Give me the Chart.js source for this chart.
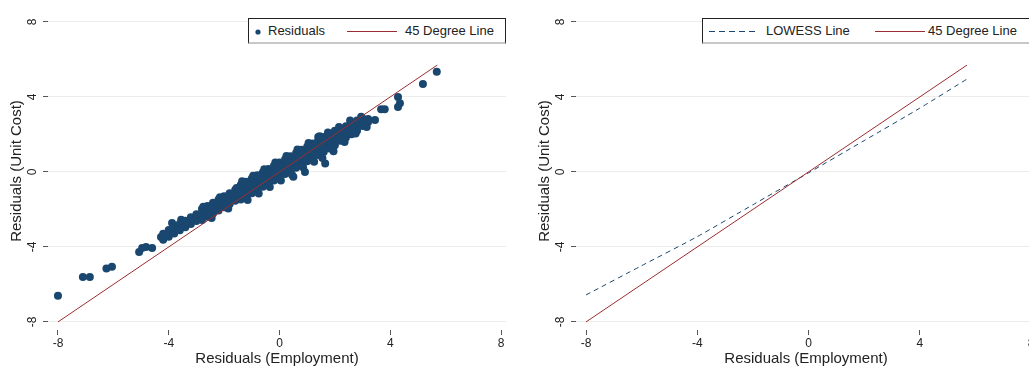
<!DOCTYPE html>
<html>
<head>
<meta charset="utf-8">
<script src="https://cdn.jsdelivr.net/npm/chart.js@4"></script>
<style>
    html, body { margin: 0; padding: 0; background: #fff; }
    body { width: 1029px; height: 368px; overflow: hidden; position: relative; font-family: "Liberation Sans", Arial, sans-serif; }
    canvas { position: absolute; top: 0; }
    #leftChart { left: 0; }
    #rightChart { left: 528px; }
    .legend { position: absolute; top: 18px; height: 23px; background: #fff; border: 1px solid #222; border-bottom: 2px solid #c8c8c8; box-sizing: content-box; }
    .legend span, .legend svg { position: absolute; }
    .legend span { top: 4px; font-size: 13px; color: #222; line-height: 15px; white-space: nowrap; }
    .legend svg { top: 0; }
</style>
</head>
<body>
<canvas id="leftChart" width="510" height="368"></canvas>
<canvas id="rightChart" width="510" height="368"></canvas>

<div class="legend" style="left:248px; width:256px;">
    <svg width="20" height="24" style="left:0;"><circle cx="9" cy="13" r="2.6" fill="#1a476f"></circle></svg>
    <span style="left:19px;">Residuals</span>
    <svg width="60" height="24" style="left:96px;"><line x1="2" y1="12.5" x2="52" y2="12.5" stroke="#9b2d30" stroke-width="1"></line></svg>
    <span style="left:156px;">45 Degree Line</span>
</div>
<div class="legend" style="left:702px; width:340px;">
    <svg width="60" height="24" style="left:4px;"><line x1="2" y1="12.5" x2="52" y2="12.5" stroke="#1a476f" stroke-width="1" stroke-dasharray="6,4"></line></svg>
    <span style="left:63px;">LOWESS Line</span>
    <svg width="60" height="24" style="left:170px;"><line x1="2" y1="12.5" x2="52" y2="12.5" stroke="#9b2d30" stroke-width="1"></line></svg>
    <span style="left:225px;">45 Degree Line</span>
</div>

<script>
// Chart data - residual comparison (employment vs unit cost)

const xTicks = [-8, -4, 0, 4, 8];
const yTicks = [-8, -4, 0, 4, 8];

const xTitle = 'Residuals (Employment)';
const yTitle = 'Residuals (Unit Cost)';

// 45 degree reference line
const degreeLineX = [-8, 5.7];
const degreeLineY = [-8, 5.7];

// LOWESS fit
const lowessX = [-8, -6, -4, -2, 0, 2, 4, 5.75];
const lowessY = [-6.56, -5.0, -3.45, -1.75, -0.05, 1.67, 3.4, 5.0];

// Residual scatter, [employment, unit cost]
const residuals = [
    // lower tail outliers
    [-8.0, -6.6], [-7.1, -5.6], [-6.85, -5.6], [-6.25, -5.15], [-6.05, -5.05],
    [-5.07, -4.27], [-4.96, -4.05], [-4.82, -4.0], [-4.6, -4.05],
    [-4.28, -3.47], [-4.17, -3.36], [-3.88, -2.72], [-3.55, -2.55],
    // lower band
    [-4.2, -3.47], [-4.2, -3.29], [-4.2, -3.62],
    [-4.0, -3.3], [-4.0, -3.1], [-4.0, -3.45],
    [-3.8, -3.13], [-3.8, -2.95], [-3.8, -3.28],
    [-3.6, -2.96], [-3.6, -2.76], [-3.6, -3.11],
    [-3.4, -2.79], [-3.4, -2.6], [-3.4, -2.95],
    [-3.2, -2.62], [-3.2, -2.42], [-3.2, -2.78],
    [-3.0, -2.45], [-3.0, -2.26], [-3.0, -2.62],
    [-2.8, -2.28], [-2.8, -1.98], [-2.8, -2.56], [-2.7, -2.07],
    [-2.6, -2.11], [-2.6, -1.81], [-2.6, -2.39], [-2.5, -1.9],
    [-2.4, -1.94], [-2.4, -1.64], [-2.4, -2.22], [-2.3, -1.73],
    [-2.2, -1.77], [-2.2, -1.47], [-2.2, -2.05], [-2.1, -1.56],
    [-2.0, -1.6], [-2.0, -1.3], [-2.0, -1.88], [-1.9, -1.39],
    [-1.8, -1.43], [-1.8, -1.13], [-1.8, -1.71], [-1.7, -1.22],
    [-1.6, -1.26], [-1.6, -0.96], [-1.6, -1.54], [-1.5, -1.05],
    [-2.75, -1.85], [-2.45, -2.45], [-2.15, -1.35], [-1.85, -1.95], [-1.55, -0.85],
    // centre of the cloud
    [-1.4, -1.09], [-1.4, -0.69], [-1.4, -1.47], [-1.3, -0.81], [-1.3, -1.21],
    [-1.2, -0.92], [-1.2, -0.52], [-1.2, -1.3], [-1.1, -0.64], [-1.1, -1.04],
    [-1.0, -0.75], [-1.0, -0.35], [-1.0, -1.13], [-0.9, -0.47], [-0.9, -0.87],
    [-0.8, -0.58], [-0.8, -0.18], [-0.8, -0.96], [-0.7, -0.3], [-0.7, -0.7],
    [-0.6, -0.41], [-0.6, -0.01], [-0.6, -0.79], [-0.5, -0.13], [-0.5, -0.53],
    [-0.4, -0.24], [-0.4, 0.16], [-0.4, -0.62], [-0.3, 0.04], [-0.3, -0.36],
    [-0.2, -0.07], [-0.2, 0.33], [-0.2, -0.45], [-0.1, 0.21], [-0.1, -0.19],
    [0.0, 0.1], [0.0, 0.5], [0.0, -0.28], [0.1, 0.38], [0.1, -0.02],
    [0.2, 0.27], [0.2, 0.67], [0.2, -0.11], [0.3, 0.55], [0.3, 0.15],
    [0.4, 0.44], [0.4, 0.84], [0.4, 0.06], [0.5, 0.72], [0.5, 0.32],
    [0.6, 0.61], [0.6, 1.01], [0.6, 0.23], [0.7, 0.89], [0.7, 0.49],
    [0.8, 0.78], [0.8, 1.18], [0.8, 0.4], [0.9, 1.06], [0.9, 0.66],
    [1.0, 0.95], [1.0, 1.35], [1.0, 0.57], [1.1, 1.23], [1.1, 0.83],
    [1.2, 1.12], [1.2, 1.52], [1.2, 0.74], [1.3, 1.4], [1.3, 1.0],
    [1.4, 1.29], [1.4, 1.69], [1.4, 0.91], [1.5, 1.57], [1.5, 1.17],
    [1.6, 1.46], [1.6, 1.86], [1.6, 1.08], [1.7, 1.74], [1.7, 1.34],
    [1.8, 1.63], [1.8, 2.03], [1.8, 1.25], [1.9, 1.91], [1.9, 1.51],
    [2.0, 1.8], [2.0, 2.2], [2.0, 1.42], [2.1, 2.08], [2.1, 1.68],
    [0.92, 0.0], [1.65, 0.45], [0.5, -0.25], [1.4, 1.87],
    [-1.35, -0.5], [-1.15, -1.5], [-0.95, -0.2], [-0.75, -1.15], [-0.55, 0.15],
    [-0.35, -0.8], [-0.15, 0.5], [0.05, -0.45], [0.25, 0.85], [0.45, -0.15],
    [0.65, 1.2], [0.85, 0.25], [1.05, 1.55], [1.25, 0.55], [1.45, 1.9],
    [1.55, 0.75], [1.75, 2.1], [1.95, 1.1],
    // upper band
    [2.2, 1.97], [2.2, 2.27], [2.2, 1.67], [2.3, 2.16],
    [2.4, 2.14], [2.4, 2.44], [2.4, 1.84], [2.5, 2.33],
    [2.6, 2.31], [2.6, 2.61], [2.6, 2.01], [2.7, 2.5],
    [2.8, 2.48], [2.8, 2.75], [2.8, 2.2], [2.9, 2.62],
    [3.0, 2.65], [3.0, 2.85], [3.0, 2.45], [3.1, 2.75],
    [3.2, 2.82], [3.2, 2.66],
    [2.15, 2.4], [2.35, 1.6], [2.55, 2.75], [2.75, 2.05], [2.95, 2.95], [3.15, 2.4],
    // upper tail outliers
    [3.45, 2.77], [3.67, 3.35], [3.8, 3.35], [4.28, 4.0], [4.28, 3.47],
    [4.35, 3.67], [5.18, 4.69], [5.68, 5.35]
];

const NAVY = '#1a476f';
const MAROON = '#9b2d30';
const FONT = '"Liberation Sans", Arial, sans-serif';

function toPoints(xs, ys) {
    return xs.map((x, i) => ({ x: x, y: ys[i] }));
}

/**
 * Stata style vertical tick labels on the y axis
 */
const rotatedYTicks = {
    id: 'rotatedYTicks',
    afterDraw(chart) {
        const ctx = chart.ctx;
        const scale = chart.scales.y;
        ctx.save();
        ctx.font = '12px ' + FONT;
        ctx.fillStyle = '#222';
        ctx.textAlign = 'center';
        ctx.textBaseline = 'middle';
        yTicks.forEach(v => {
            const py = scale.getPixelForValue(v);
            ctx.save();
            ctx.translate(chart.chartArea.left - 15, py);
            ctx.rotate(-Math.PI / 2);
            ctx.fillText(String(v), 0, 0);
            ctx.restore();
        });
        ctx.restore();
    }
};

function buildScales() {
    return {
        x: {
            type: 'linear',
            min: -8.36,
            max: 8.18,
            afterBuildTicks: (scale) => { scale.ticks = xTicks.map(v => ({ value: v })); },
            afterFit: (scale) => { scale.height = 38; },
            border: { display: false },
            grid: { drawOnChartArea: false, drawTicks: true, tickLength: 5, tickColor: '#555' },
            ticks: { color: '#222', font: { family: FONT, size: 12 }, padding: 1, maxRotation: 0 },
            title: { display: true, text: xTitle, color: '#222', font: { family: FONT, size: 15 }, padding: { top: 0, bottom: 0 } }
        },
        y: {
            type: 'linear',
            min: -8.43,
            max: 8.53,
            afterBuildTicks: (scale) => { scale.ticks = yTicks.map(v => ({ value: v })); },
            afterFit: (scale) => { scale.width = 48; },
            border: { display: false },
            grid: { color: '#ececec', lineWidth: 1, drawTicks: true, tickLength: 5, tickColor: '#555' },
            ticks: { display: false },
            title: { display: true, text: yTitle, color: '#222', font: { family: FONT, size: 15 }, padding: { top: 8, bottom: 0 } }
        }
    };
}

function baseOptions() {
    return {
        responsive: false,
        animation: false,
        layout: { padding: { top: 12, right: 2, left: 0, bottom: 0 } },
        plugins: { legend: { display: false }, tooltip: { enabled: false } },
        scales: buildScales()
    };
}

new Chart(document.getElementById('leftChart'), {
    type: 'scatter',
    data: {
        datasets: [{
            type: 'line',
            label: '45 Degree Line',
            data: toPoints(degreeLineX, degreeLineY),
            borderColor: MAROON,
            borderWidth: 1,
            pointRadius: 0,
            fill: false
        }, {
            label: 'Residuals',
            data: residuals.map(p => ({ x: p[0], y: p[1] })),
            backgroundColor: NAVY,
            borderColor: NAVY,
            borderWidth: 0,
            pointRadius: 4
        }]
    },
    options: baseOptions(),
    plugins: [rotatedYTicks]
});

new Chart(document.getElementById('rightChart'), {
    type: 'scatter',
    data: {
        datasets: [{
            type: 'line',
            label: '45 Degree Line',
            data: toPoints(degreeLineX, degreeLineY),
            borderColor: MAROON,
            borderWidth: 1,
            pointRadius: 0,
            fill: false
        }, {
            type: 'line',
            label: 'LOWESS Line',
            data: toPoints(lowessX, lowessY),
            borderColor: NAVY,
            borderWidth: 1,
            borderDash: [5, 4],
            pointRadius: 0,
            tension: 0.2,
            fill: false
        }]
    },
    options: baseOptions(),
    plugins: [rotatedYTicks]
});
</script>
</body>
</html>
